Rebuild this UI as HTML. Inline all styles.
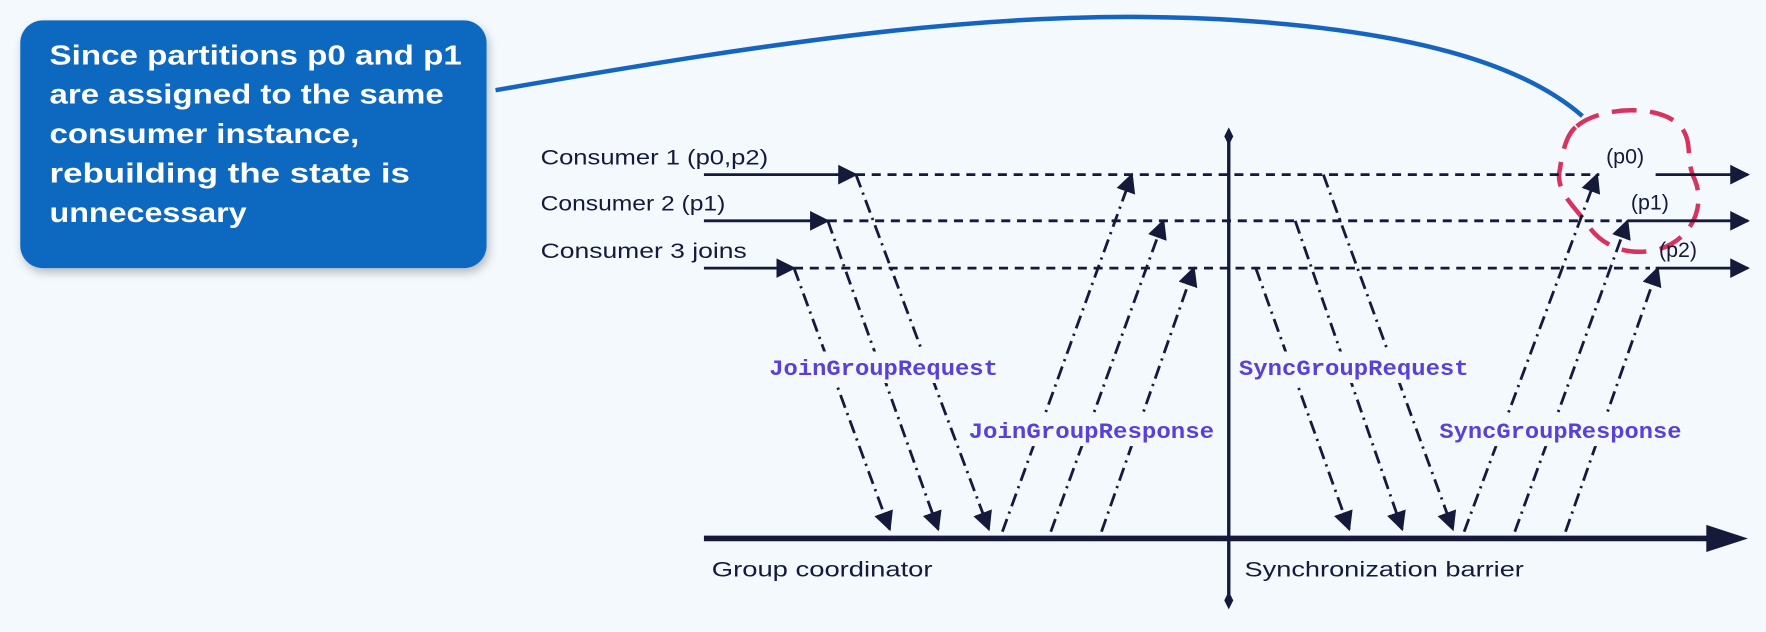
<!DOCTYPE html>
<html><head><meta charset="utf-8"><style>
html,body{margin:0;padding:0;background:#f3f9fd;}
svg{display:block;}
.lbl{font-family:"Liberation Sans",sans-serif;font-size:19px;fill:#151a3a;}
.msg{font-family:"Liberation Mono",monospace;font-weight:bold;font-size:20px;fill:#5a3fd8;}
.call{font-family:"Liberation Sans",sans-serif;font-weight:bold;font-size:25px;fill:#fff;}
</style></head><body>
<svg id="chart" width="1766" height="632" viewBox="0 0 1568 561" xmlns="http://www.w3.org/2000/svg">
<defs>
<marker id="ah" viewBox="0 0 10 10" refX="9" refY="5" markerWidth="7" markerHeight="7" orient="auto-start-reverse"><path d="M0,0 L10,5 L0,10 z" fill="#151a3a"/></marker>
<filter id="sh" x="-10%" y="-10%" width="130%" height="130%"><feDropShadow dx="2" dy="4" stdDeviation="4" flood-color="#000" flood-opacity="0.25"/></filter>
</defs>
<rect width="1568" height="561" fill="#f3f9fd"/>
<path d="M440,80 C700,35 900,5 1100,18 C1250,28 1350,55 1405,103" fill="none" stroke="#1565c0" stroke-width="4"/>
<g>
<rect x="18" y="18" width="414" height="220" rx="20" fill="#1168bf" filter="url(#sh)"/>
<text class="call" x="44" y="57" textLength="366" lengthAdjust="spacingAndGlyphs">Since partitions p0 and p1</text>
<text class="call" x="44" y="92" textLength="350" lengthAdjust="spacingAndGlyphs">are assigned to the same</text>
<text class="call" x="44" y="127" textLength="275" lengthAdjust="spacingAndGlyphs">consumer instance,</text>
<text class="call" x="44" y="162" textLength="320" lengthAdjust="spacingAndGlyphs">rebuilding the state is</text>
<text class="call" x="44" y="197" textLength="175" lengthAdjust="spacingAndGlyphs">unnecessary</text>
</g>
<path d="M1400,112 C1420,95 1470,92 1490,110 C1505,125 1495,140 1505,160 C1515,185 1500,215 1470,222 C1440,228 1420,215 1410,200 C1400,185 1380,170 1385,150 C1388,130 1392,118 1400,112 Z" fill="none" stroke="#d6335f" stroke-width="4" stroke-dasharray="22 12"/>
<g id="consumers"></g>
<g id="msgs"></g>
<g>
<line x1="1091" y1="120" x2="1091" y2="533" stroke="#151a3a" stroke-width="3"/>
<path d="M1091,113 l4,8 l-4,8 l-4,-8z M1091,525 l4,8 l-4,8 l-4,-8z" fill="#151a3a"/>
</g>
<g>
<line x1="625" y1="478" x2="1520" y2="478" stroke="#151a3a" stroke-width="5"/>
<path d="M1515,466 L1552,478 L1515,490 z" fill="#151a3a"/>
</g>
<text class="lbl" x="632" y="512" textLength="196" lengthAdjust="spacingAndGlyphs">Group coordinator</text>
<text class="lbl" x="1105" y="512" textLength="248" lengthAdjust="spacingAndGlyphs">Synchronization barrier</text>
<g><rect x="679" y="312" width="211" height="28" fill="#f3f9fd"/><text class="msg" x="683" y="333" textLength="203" lengthAdjust="spacingAndGlyphs">JoinGroupRequest</text></g>
<g><rect x="856" y="368" width="226" height="28" fill="#f3f9fd"/><text class="msg" x="860" y="389" textLength="218" lengthAdjust="spacingAndGlyphs">JoinGroupResponse</text></g>
<g><rect x="1096" y="312" width="212" height="28" fill="#f3f9fd"/><text class="msg" x="1100" y="333" textLength="204" lengthAdjust="spacingAndGlyphs">SyncGroupRequest</text></g>
<g><rect x="1274" y="368" width="223" height="28" fill="#f3f9fd"/><text class="msg" x="1278" y="389" textLength="215" lengthAdjust="spacingAndGlyphs">SyncGroupResponse</text></g>
</svg>
<script>
const consumerNames=["Consumer 1 (p0,p2)","Consumer 2 (p1)","Consumer 3 joins"];
const consumerY=[155,196,238];
const startX=[760,735,705];
const endX=[1420,1440,1465];
const partitions=["(p0)","(p1)","(p2)"];
const reqX=[790,833,878];
const respX=[890,933,978];
const syncReqX=[1198,1245,1290];
const syncRespX=[1300,1345,1390];
const joinReqFrom=[760,735,705];
const joinRespTo=[1005,1033,1060];
const syncReqFrom=[1175,1150,1115];
const syncRespTo=[1418,1445,1472];
const NS="http://www.w3.org/2000/svg";
const cg=document.getElementById('consumers');
const mg=document.getElementById('msgs');
const lblW=[202,164,183];
function mk(t,a,p){const e=document.createElementNS(NS,t);for(const k in a)e.setAttribute(k,a[k]);p.appendChild(e);return e;}
consumerNames.forEach((n,i)=>{
 const y=consumerY[i];
 const g=mk('g',{},cg);
 
 
 const t=mk('text',{class:'lbl',x:480,y:y-9,textLength:lblW[i],lengthAdjust:'spacingAndGlyphs'},g);t.textContent=n;
 mk('line',{x1:625,y1:y,x2:startX[i],y2:y,stroke:'#151a3a','stroke-width':2.5,'marker-end':'url(#ah)'},g);
 mk('line',{x1:startX[i],y1:y,x2:endX[i],y2:y,stroke:'#151a3a','stroke-width':2.5,'stroke-dasharray':'8 6'},g);
 mk('line',{x1:endX[i]+(i==0?50:5),y1:y,x2:1552,y2:y,stroke:'#151a3a','stroke-width':2.5,'marker-end':'url(#ah)'},g);
 const p=mk('text',{class:'lbl',x:[1426,1448,1473][i],y:y-10},g);p.textContent=partitions[i];
});
function arrow(x1,y1,x2,y2,name){
 const l=mk('line',{x1:x1,y1:y1,x2:x2,y2:y2,stroke:'#151a3a','stroke-width':2.5,'stroke-dasharray':'12 5 2 5','marker-end':'url(#ah)'},mg);
 
 
}
for(let i=0;i<3;i++){
 arrow(joinReqFrom[2-i],consumerY[2-i],reqX[i],470,'join-request-arrow');
 arrow(respX[i],472,joinRespTo[i],consumerY[i],'join-response-arrow');
 arrow(syncReqFrom[2-i],consumerY[2-i],syncReqX[i],470,'sync-request-arrow');
 arrow(syncRespX[i],472,syncRespTo[i],consumerY[i],'sync-response-arrow');
}
</script>
</body></html>
